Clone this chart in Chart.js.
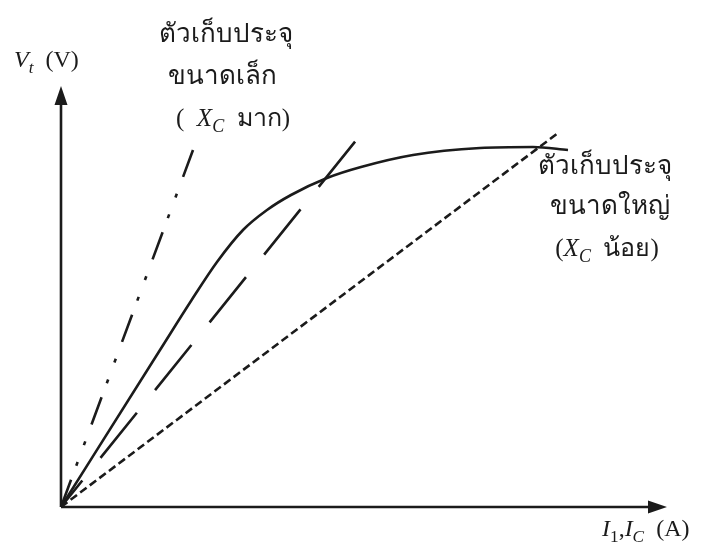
<!DOCTYPE html>
<html>
<head>
<meta charset="utf-8">
<script src="https://cdn.jsdelivr.net/npm/chart.js@4"></script>
<style>
  body { margin: 0; background: #fff; }
  #wrap { width: 714px; height: 549px; }
</style>
</head>
<body>
<div id="wrap"><canvas id="chart" width="714" height="549"></canvas></div>
<script>
// ข้อมูลกราฟ (หน่วยสมมติ)
const axisMaxX = 60.6;
const axisMaxY = 42.1;

// เส้นโหลดของตัวเก็บประจุขนาดเล็ก (X_C มาก)
const smallCapX = [0, 13.2];
const smallCapY = [0, 35.7];

// เส้นประยาว (ตัวเก็บประจุขนาดกลาง)
const midCapX = [0, 30.1];
const midCapY = [0, 37.4];

// ตัวเก็บประจุขนาดใหญ่ (X_C น้อย)
const largeCapX = [0, 49.7];
const largeCapY = [0, 37.4];

// เส้นโค้งแรงดันของเครื่องกำเนิด
const curveX = [0, 9.9, 13.0, 15.6, 18.2, 20.6, 23.0, 26.6, 30.0, 35.2, 41.9, 47.2, 50.7];
const curveY = [0, 15.7, 20.6, 24.5, 27.7, 29.7, 31.2, 32.9, 34.0, 35.2, 35.9, 36.0, 35.7];

const ink = '#1b1b1b';
const serif = '"Liberation Serif", "DejaVu Serif", serif';

function toPoints(xs, ys) {
    return xs.map((x, i) => ({ x: x, y: ys[i] }));
}

function lineSet(xs, ys, dash, offset) {
    return {
        data: toPoints(xs, ys),
        showLine: true,
        borderColor: ink,
        borderWidth: 2.6,
        borderDash: dash,
        borderDashOffset: offset || 0,
        pointRadius: 0,
        fill: false
    };
}

// วาดข้อความแบบมีตัวห้อย
function richText(ctx, parts, x, y, size, align) {
    let width = 0;
    parts.forEach(p => {
        ctx.font = (p.italic ? 'italic ' : '') + (p.sub ? size * 0.72 : size) + 'px ' + serif;
        p.w = ctx.measureText(p.t).width;
        width += p.w;
    });
    let cx = align === 'center' ? x - width / 2 : x;
    ctx.textAlign = 'left';
    ctx.textBaseline = 'alphabetic';
    parts.forEach(p => {
        ctx.font = (p.italic ? 'italic ' : '') + (p.sub ? size * 0.72 : size) + 'px ' + serif;
        ctx.fillText(p.t, cx, y + (p.sub ? size * 0.25 : 0));
        cx += p.w;
    });
}

const axesPlugin = {
    id: 'axesPlugin',
    afterDraw(chart) {
        const ctx = chart.ctx;
        const xs = chart.scales.x, ys = chart.scales.y;
        const x0 = xs.getPixelForValue(0), y0 = ys.getPixelForValue(0);
        const x1 = xs.getPixelForValue(axisMaxX), y1 = ys.getPixelForValue(axisMaxY);
        ctx.save();
        ctx.strokeStyle = ink;
        ctx.fillStyle = ink;
        ctx.lineWidth = 2.6;
        ctx.beginPath();
        ctx.moveTo(x0, y0); ctx.lineTo(x1 - 10, y0);
        ctx.moveTo(x0, y0); ctx.lineTo(x0, y1 + 10);
        ctx.stroke();
        // หัวลูกศร
        ctx.beginPath();
        ctx.moveTo(x1, y0); ctx.lineTo(x1 - 19, y0 - 6.5); ctx.lineTo(x1 - 19, y0 + 6.5); ctx.closePath();
        ctx.moveTo(x0, y1); ctx.lineTo(x0 - 6.5, y1 + 19); ctx.lineTo(x0 + 6.5, y1 + 19); ctx.closePath();
        ctx.fill();

        // ป้ายแกน
        richText(ctx, [{ t: 'V', italic: true }, { t: 't', italic: true, sub: true }, { t: '  (V)' }], 14, 67, 24, 'left');
        richText(ctx, [{ t: 'I', italic: true }, { t: '1', sub: true }, { t: ',' }, { t: 'I', italic: true }, { t: 'C', italic: true, sub: true }, { t: '  (A)' }], 602, 536, 24, 'left');

        // ป้ายตัวเก็บประจุ
        ctx.font = '26px ' + serif;
        ctx.textAlign = 'center';
        ctx.textBaseline = 'alphabetic';
        ctx.fillText('ตัวเก็บประจุ', 226, 42);
        ctx.fillText('ขนาดเล็ก', 222, 84);
        richText(ctx, [{ t: '(  ' }, { t: 'X', italic: true }, { t: 'C', italic: true, sub: true }, { t: '  มาก)' }], 233, 126, 25, 'center');

        ctx.font = '26px ' + serif;
        ctx.textAlign = 'center';
        ctx.fillText('ตัวเก็บประจุ', 605, 174);
        ctx.fillText('ขนาดใหญ่', 610, 214);
        richText(ctx, [{ t: '(' }, { t: 'X', italic: true }, { t: 'C', italic: true, sub: true }, { t: '  น้อย)' }], 607, 256, 25, 'center');
        ctx.restore();
    }
};

new Chart(document.getElementById('chart'), {
    type: 'scatter',
    data: {
        datasets: [
            lineSet(smallCapX, smallCapY, [29, 15, 4, 18, 4, 18], 0),
            lineSet(midCapX, midCapY, [58, 29], 24),
            lineSet(largeCapX, largeCapY, [8, 4], 0),
            Object.assign(lineSet(curveX, curveY, [], 0), { cubicInterpolationMode: 'monotone' })
        ]
    },
    options: {
        responsive: false,
        animation: false,
        clip: false,
        layout: { padding: { left: 61, right: 47, top: 86, bottom: 42 } },
        plugins: { legend: { display: false }, tooltip: { enabled: false } },
        scales: {
            x: { type: 'linear', min: 0, max: axisMaxX, display: false },
            y: { type: 'linear', min: 0, max: axisMaxY, display: false }
        }
    },
    plugins: [axesPlugin]
});
</script>
</body>
</html>
